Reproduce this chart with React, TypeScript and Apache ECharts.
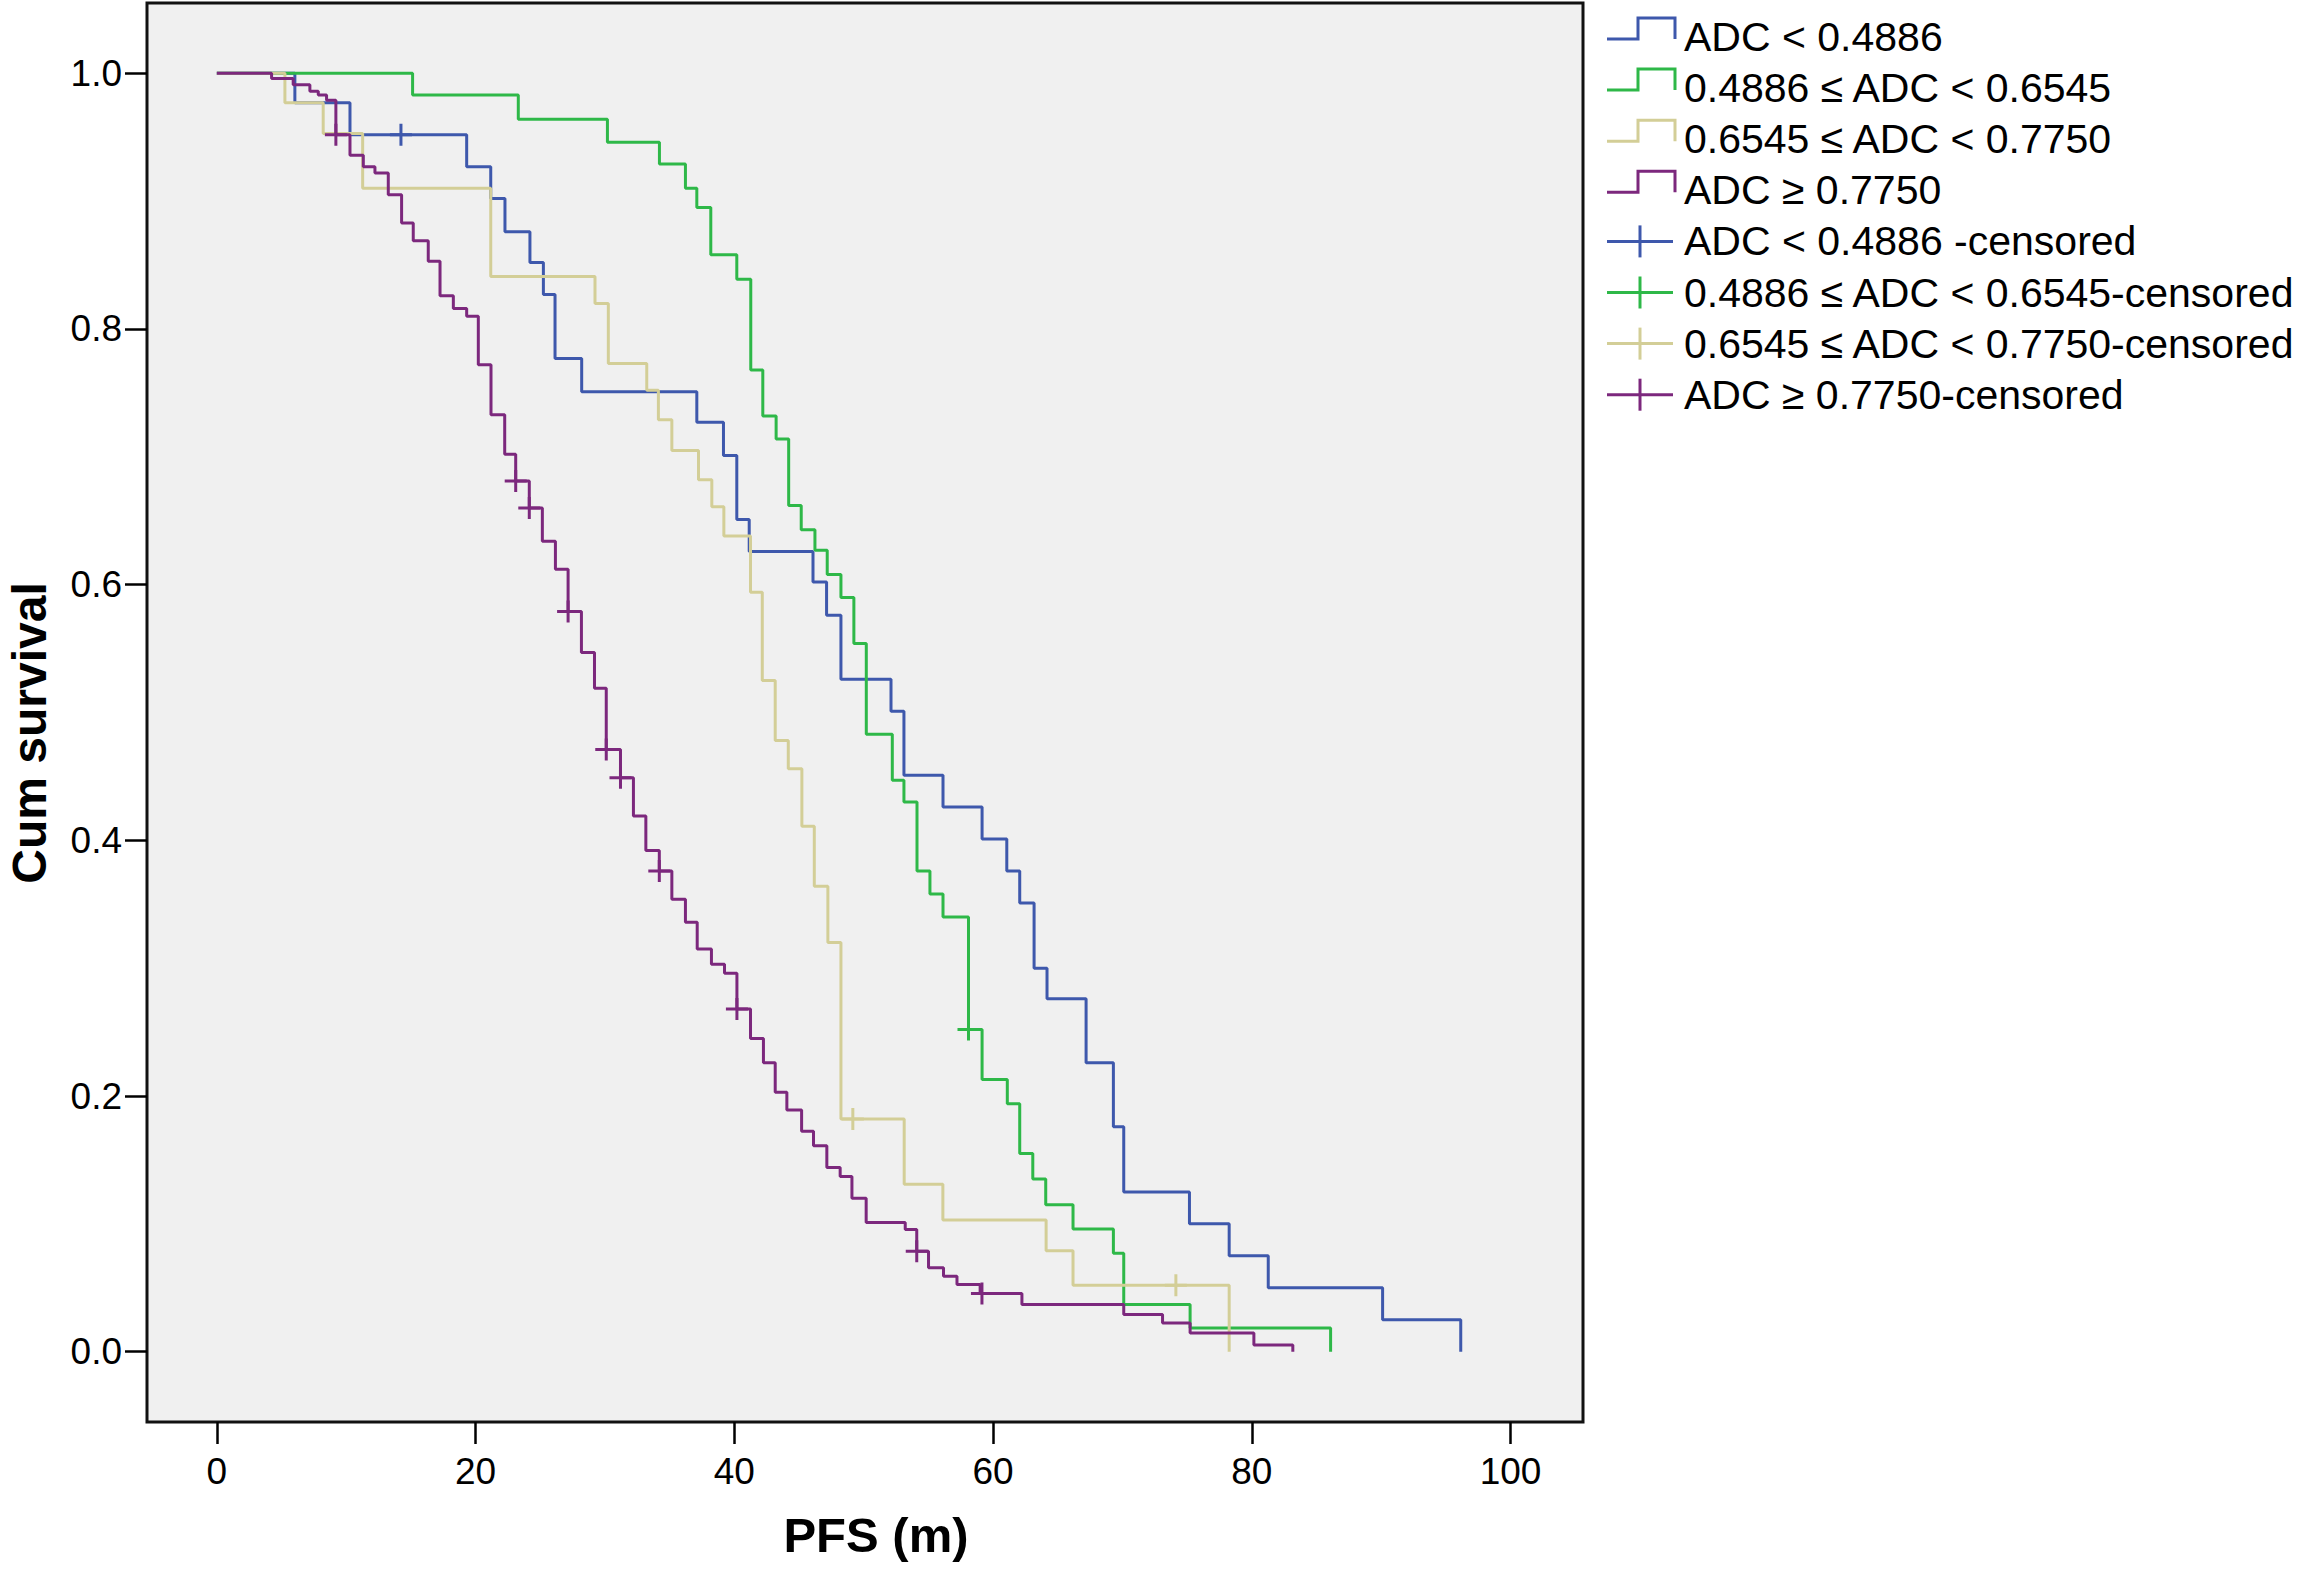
import React, { useEffect, useRef } from "react";
import * as echarts from "echarts";

// ---------- data ----------
const xTicks = [0, 20, 40, 60, 80, 100];
const yTicks = [0, 0.2, 0.4, 0.6, 0.8, 1.0];

const groupNames = [
  "ADC < 0.4886",
  "0.4886 ≤ ADC < 0.6545",
  "0.6545 ≤ ADC < 0.7750",
  "ADC ≥ 0.7750",
];
const censoredNames = [
  "ADC < 0.4886 -censored",
  "0.4886 ≤ ADC < 0.6545-censored",
  "0.6545 ≤ ADC < 0.7750-censored",
  "ADC ≥ 0.7750-censored",
];
const groupColors = ["#3E58AC", "#2EB848", "#D3CE97", "#7C287D"];

// ADC < 0.4886
const blueTime = [0, 6.03, 10.29, 19.31, 21.17, 22.27, 24.2, 25.24, 26.14, 28.2, 37.1, 39.16, 40.19, 41.15, 46.08, 47.13, 48.24, 52.11, 53.11, 56.13, 59.15, 61.06, 62.06, 63.17, 64.17, 67.19, 69.3, 70.1, 75.18, 78.25, 81.27, 90.11, 96.15];
const blueSurv = [1.0, 0.977, 0.952, 0.927, 0.902, 0.876, 0.852, 0.827, 0.777, 0.751, 0.727, 0.701, 0.651, 0.626, 0.602, 0.576, 0.526, 0.501, 0.451, 0.426, 0.401, 0.376, 0.351, 0.3, 0.276, 0.226, 0.176, 0.125, 0.1, 0.075, 0.05, 0.025, 0.0];
const blueCensTime = [14.23];
const blueCensSurv = [0.952];

// 0.4886 <= ADC < 0.6545
const greenTime = [0, 15.13, 23.3, 30.19, 34.21, 36.22, 37.1, 38.18, 40.19, 41.27, 42.2, 43.23, 44.2, 45.17, 46.23, 47.18, 48.24, 49.24, 50.2, 52.21, 53.11, 54.12, 55.12, 56.13, 58.1, 59.15, 61.1, 62.06, 63.07, 64.07, 66.18, 69.3, 70.1, 75.23, 86.09];
const greenSurv = [1.0, 0.983, 0.964, 0.946, 0.929, 0.91, 0.895, 0.858, 0.839, 0.768, 0.732, 0.714, 0.662, 0.643, 0.627, 0.608, 0.59, 0.554, 0.483, 0.447, 0.43, 0.376, 0.358, 0.34, 0.252, 0.213, 0.194, 0.155, 0.135, 0.115, 0.096, 0.077, 0.037, 0.0185, 0.0];
const greenCensTime = [58.1];
const greenCensSurv = [0.252];

// 0.6545 <= ADC < 0.7750
const yellowTime = [0, 5.26, 8.22, 11.27, 21.17, 29.23, 30.26, 33.23, 34.13, 35.17, 37.23, 38.26, 39.19, 41.25, 42.16, 43.16, 44.17, 45.22, 46.18, 47.23, 48.24, 53.13, 56.12, 64.1, 66.18, 78.25];
const yellowSurv = [1.0, 0.977, 0.953, 0.91, 0.841, 0.82, 0.773, 0.752, 0.729, 0.705, 0.682, 0.661, 0.638, 0.594, 0.525, 0.478, 0.456, 0.411, 0.364, 0.32, 0.182, 0.131, 0.103, 0.079, 0.052, 0.0];
const yellowCensTime = [49.16, 74.13];
const yellowCensSurv = [0.182, 0.052];

// ADC >= 0.7750
const purpleTime = [0, 4.23, 5.9, 7.19, 7.84, 8.48, 9.2, 10.29, 11.32, 12.22, 13.25, 14.28, 15.18, 16.34, 17.25, 18.28, 19.31, 20.21, 21.19, 22.25, 23.1, 24.15, 25.16, 26.17, 27.15, 28.18, 29.19, 30.1, 31.2, 32.2, 33.16, 34.2, 35.17, 36.22, 37.13, 38.23, 39.24, 40.2, 41.25, 42.25, 43.16, 44.06, 45.2, 46.12, 47.15, 48.18, 49.09, 50.19, 53.21, 54.1, 55.01, 56.17, 57.21, 59.0, 62.23, 70.1, 73.1, 75.23, 80.16, 83.17];
const purpleSurv = [1.0, 0.996, 0.991, 0.986, 0.983, 0.979, 0.952, 0.936, 0.927, 0.922, 0.905, 0.883, 0.869, 0.853, 0.826, 0.816, 0.81, 0.772, 0.733, 0.702, 0.681, 0.66, 0.634, 0.612, 0.579, 0.547, 0.519, 0.471, 0.449, 0.419, 0.392, 0.376, 0.354, 0.336, 0.315, 0.303, 0.296, 0.268, 0.245, 0.226, 0.203, 0.189, 0.1725, 0.161, 0.144, 0.137, 0.12, 0.101, 0.0956, 0.0786, 0.0656, 0.059, 0.0526, 0.0456, 0.0369, 0.029, 0.0225, 0.0146, 0.0053, 0.0];
const purpleCensTime = [9.2, 23.1, 24.15, 27.15, 30.1, 31.2, 34.2, 40.2, 54.1, 59.14];
const purpleCensSurv = [0.952, 0.681, 0.66, 0.579, 0.471, 0.449, 0.376, 0.268, 0.0786, 0.0456];

const curveTimes = [blueTime, greenTime, yellowTime, purpleTime];
const curveSurvs = [blueSurv, greenSurv, yellowSurv, purpleSurv];
const censTimes = [blueCensTime, greenCensTime, yellowCensTime, purpleCensTime];
const censSurvs = [blueCensSurv, greenCensSurv, yellowCensSurv, purpleCensSurv];

const FONT = "'Liberation Sans', Arial, Helvetica, sans-serif";

const zip = (a: number[], b: number[]) => a.map((v, i) => [v, b[i]]);

function buildOption() {
  const series: any[] = [];
  for (let g = 0; g < 4; g++) {
    series.push({
      name: groupNames[g],
      type: "line",
      step: "end",
      data: zip(curveTimes[g], curveSurvs[g]),
      symbol: "none",
      showSymbol: false,
      silent: true,
      lineStyle: { color: groupColors[g], width: 3 },
      itemStyle: { color: groupColors[g] },
      z: 2 + g,
    });
  }
  for (let g = 0; g < 4; g++) {
    series.push({
      name: censoredNames[g],
      type: "scatter",
      data: zip(censTimes[g], censSurvs[g]),
      symbol: "path://M0,10L20,10M10,0L10,20",
      symbolSize: 22,
      silent: true,
      itemStyle: { color: "rgba(0,0,0,0)", borderColor: groupColors[g], borderWidth: 3, opacity: 1 },
      z: 10 + g,
    });
  }

  // legend drawn as graphic elements
  const graphics: any[] = [];
  const legX0 = 1607;
  const legX1 = 1675;
  const legTextX = 1684;
  const rowY0 = 37;
  const rowGap = 51.1;
  for (let i = 0; i < 8; i++) {
    const cy = rowY0 + rowGap * i;
    const g = i % 4;
    const color = groupColors[g];
    if (i < 4) {
      graphics.push({
        type: "polyline",
        silent: true,
        shape: {
          points: [
            [legX0, cy + 2],
            [1638, cy + 2],
            [1638, cy - 19],
            [legX1, cy - 19],
            [legX1, cy + 2],
          ],
        },
        style: { stroke: color, lineWidth: 3, fill: null },
      });
    } else {
      graphics.push({
        type: "line",
        silent: true,
        shape: { x1: legX0, y1: cy, x2: legX1 - 2, y2: cy },
        style: { stroke: color, lineWidth: 3 },
      });
      graphics.push({
        type: "line",
        silent: true,
        shape: { x1: 1640, y1: cy - 16, x2: 1640, y2: cy + 16 },
        style: { stroke: color, lineWidth: 3 },
      });
    }
    graphics.push({
      type: "text",
      silent: true,
      x: legTextX,
      y: cy,
      style: {
        text: i < 4 ? groupNames[g] : censoredNames[g],
        fontSize: 41,
        fontFamily: FONT,
        fill: "#000",
        textAlign: "left",
        textVerticalAlign: "middle",
      },
    });
  }
  graphics.push({
    type: "text",
    silent: true,
    x: 876,
    y: 1535,
    style: {
      text: "PFS (m)",
      fontSize: 49,
      fontWeight: "bold",
      fontFamily: FONT,
      fill: "#000",
      textAlign: "center",
      textVerticalAlign: "middle",
    },
  });
  graphics.push({
    type: "text",
    silent: true,
    x: 29,
    y: 733,
    rotation: Math.PI / 2,
    style: {
      text: "Cum survival",
      fontSize: 48,
      fontWeight: "bold",
      fontFamily: FONT,
      fill: "#000",
      textAlign: "center",
      textVerticalAlign: "middle",
    },
  });

  return {
    animation: false,
    backgroundColor: "#ffffff",
    textStyle: { fontFamily: FONT },
    grid: {
      left: 147,
      top: 3,
      width: 1436,
      height: 1419,
      show: true,
      backgroundColor: "#F0F0F0",
      borderColor: "#111",
      borderWidth: 3,
      containLabel: false,
    },
    xAxis: {
      type: "value",
      position: "bottom",
      min: -5.4,
      max: 105.6,
      axisLine: { show: false, onZero: false },
      splitLine: { show: false },
      axisTick: {
        show: true,
        inside: false,
        length: 22,
        customValues: xTicks,
        lineStyle: { color: "#000", width: 2.5 },
      },
      axisLabel: {
        show: true,
        customValues: xTicks,
        margin: 31,
        fontSize: 37,
        color: "#000",
        fontFamily: FONT,
        formatter: (v: number) => String(Math.round(v)),
      },
    },
    yAxis: {
      type: "value",
      position: "left",
      min: -0.055,
      max: 1.055,
      axisLine: { show: false, onZero: false },
      splitLine: { show: false },
      axisTick: {
        show: true,
        inside: false,
        length: 22,
        customValues: yTicks,
        lineStyle: { color: "#000", width: 2.5 },
      },
      axisLabel: {
        show: true,
        customValues: yTicks,
        margin: 25,
        fontSize: 37,
        color: "#000",
        fontFamily: FONT,
        formatter: (v: number) => v.toFixed(1),
      },
    },
    series,
    graphic: { elements: graphics },
  };
}

export default function App() {
  const ref = useRef<HTMLDivElement>(null);
  useEffect(() => {
    document.body.style.margin = "0";
    if (!ref.current) return;
    const chart = echarts.init(ref.current, undefined, { renderer: "svg" });
    chart.setOption(buildOption() as any);
    return () => {
      chart.dispose();
    };
  }, []);
  return (
    <div
      ref={ref}
      style={{ position: "fixed", left: 0, top: 0, width: "2303px", height: "1572px", background: "#fff" }}
    />
  );
}
